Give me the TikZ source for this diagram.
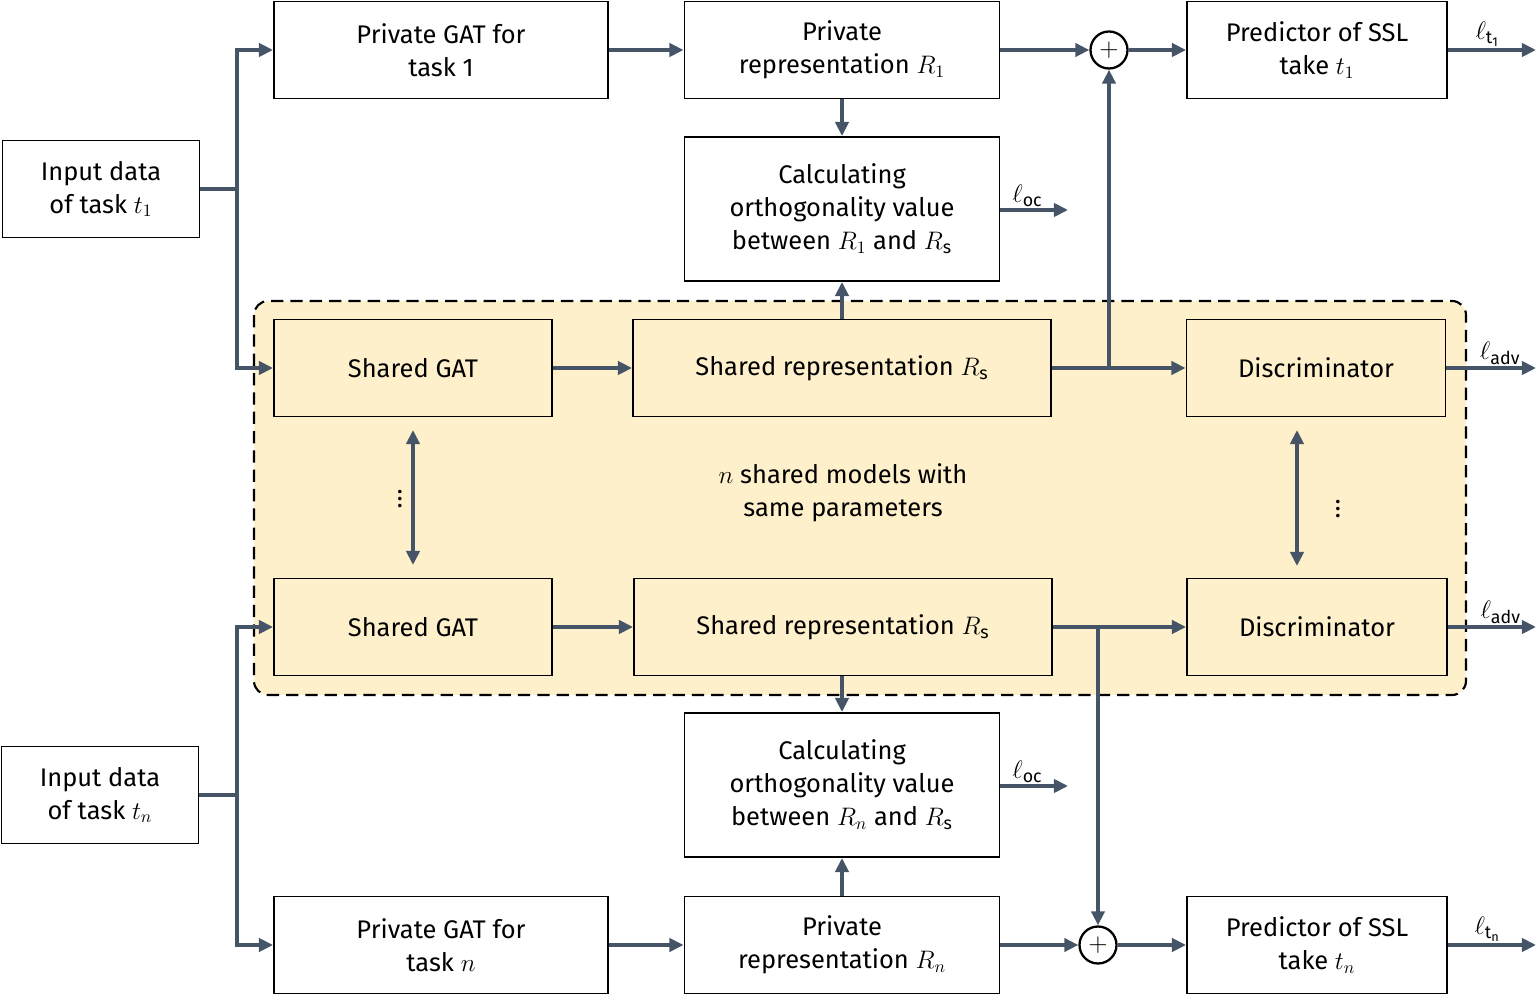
\documentclass[tikz,border=0pt]{standalone}
\usepackage{fontspec}
\setmainfont{Fira Sans}
\usetikzlibrary{arrows.meta}
\definecolor{linkc}{HTML}{465467}
\definecolor{sharedbg}{HTML}{FDF0CA}
\tikzset{
  box/.style 2 args={draw=black, line width=1.1pt, align=center, inner sep=0pt,
    minimum width=#1*0.02cm, minimum height=#2*0.02cm},
  shared/.style={fill=sharedbg},
  link/.style={draw=linkc, line width=2.1pt, -{Triangle[length=8pt,width=7.5pt]}},
  plain/.style={draw=linkc, line width=2.1pt},
  both/.style={draw=linkc, line width=2.1pt, {Triangle[length=8pt,width=7.5pt]}-{Triangle[length=8pt,width=7.5pt]}},
  plus/.style={circle, draw=black, line width=1.3pt, minimum size=0.74cm, inner sep=0pt},
  loss/.style={inner sep=1pt}
}
\begin{document}
\begin{tikzpicture}[x=0.02cm, y=-0.02cm, font=\fontsize{14.5}{18.8}\selectfont]
\useasboundingbox (0,0) rectangle (1536,996);
% shared block background
\draw[dash pattern=on 7pt off 4pt, line width=1.2pt, rounded corners=8pt, fill=sharedbg] (254,301) rectangle (1466,695);
% top task
\node[box={197}{97}] (in1) at (101,189) {Input data\\of task $t_1$};
\node[box={334}{97}] (pgat1) at (441,50) {Private GAT for\\task 1};
\node[box={315}{97}] (prv1) at (842,50) {Private\\representation $R_1$};
\node[box={315}{144}] (orth1) at (842,209) {Calculating\\orthogonality value\\between $R_1$ and $R_{\mathrm{s}}$};
\node[plus] (sum1) at (1109,50) {\Large $+$};
\node[box={260}{97}] (pred1) at (1317,50) {Predictor of SSL\\take $t_1$};
% shared models
\node[box={278}{97}, shared] (sgat1) at (413,368) {Shared GAT};
\node[box={418}{97}, shared] (srep1) at (842,368) {Shared representation $R_{\mathrm{s}}$};
\node[box={259}{97}, shared] (disc1) at (1316,368) {Discriminator};
\node[box={278}{97}, shared] (sgatn) at (413,627) {Shared GAT};
\node[box={418}{97}, shared] (srepn) at (843,627) {Shared representation $R_{\mathrm{s}}$};
\node[box={260}{97}, shared] (discn) at (1317,627) {Discriminator};
\node[align=center] (note) at (843,493) {$n$ shared models with\\same parameters};
\node[inner sep=0pt] (dots1) at (400,494) {$\vdots$};
\node[inner sep=0pt] (dots2) at (1338,504) {$\vdots$};
% bottom task
\node[box={197}{97}] (inn) at (100,795) {Input data\\of task $t_n$};
\node[box={315}{144}] (orthn) at (842,785) {Calculating\\orthogonality value\\between $R_n$ and $R_{\mathrm{s}}$};
\node[box={334}{97}] (pgatn) at (441,945) {Private GAT for\\task $n$};
\node[box={315}{97}] (prvn) at (842,945) {Private\\representation $R_n$};
\node[plus] (sumn) at (1098,945) {\Large $+$};
\node[box={260}{97}] (predn) at (1317,945) {Predictor of SSL\\take $t_n$};
% free ends
\coordinate (o1) at (1536,50);
\coordinate (oc1) at (1068,210);
\coordinate (adv1) at (1536,368);
\coordinate (advn) at (1536,627);
\coordinate (ocn) at (1068,786);
\coordinate (on) at (1536,945);
\coordinate (j1) at (237,189);
\coordinate (jn) at (237,795);
\coordinate (b1) at (1109,368);
\coordinate (bn) at (1098,627);
% connectors, top
\draw[plain] (in1.east) -- (j1);
\draw[link] (j1) |- (pgat1.west);
\draw[link] (j1) |- (sgat1.west);
\draw[link] (pgat1) -- (prv1);
\draw[link] (prv1) -- (sum1);
\draw[link] (sum1) -- (pred1);
\draw[link] (pred1) -- (o1) node[loss, pos=0.45, above] {$\ell_{\mathrm{t_1}}$};
\draw[link] (prv1) -- (orth1);
\draw[link] (orth1.east |- oc1) -- (oc1) node[loss, pos=0.4, above] {$\ell_{\mathrm{oc}}$};
\draw[link] (srep1) -- (orth1);
\draw[link] (sgat1) -- (srep1);
\draw[link] (srep1) -- (disc1);
\draw[link] (b1) -- (sum1);
\draw[link] (disc1) -- (adv1) node[loss, pos=0.6, above] {$\ell_{\mathrm{adv}}$};
\draw[both] (413,430) -- (413,565);
\draw[both] (1297,430) -- (1297,566);
% connectors, bottom
\draw[plain] (inn.east) -- (jn);
\draw[link] (jn) |- (sgatn.west);
\draw[link] (jn) |- (pgatn.west);
\draw[link] (sgatn) -- (srepn);
\draw[link] (srepn) -- (discn);
\draw[link] (bn) -- (sumn);
\draw[link] (discn) -- (advn) node[loss, pos=0.6, above] {$\ell_{\mathrm{adv}}$};
\draw[link] (srepn.south -| orthn.north) -- (orthn);
\draw[link] (orthn.east |- ocn) -- (ocn) node[loss, pos=0.4, above] {$\ell_{\mathrm{oc}}$};
\draw[link] (pgatn) -- (prvn);
\draw[link] (prvn) -- (orthn);
\draw[link] (prvn) -- (sumn);
\draw[link] (sumn) -- (predn);
\draw[link] (predn) -- (on) node[loss, pos=0.45, above] {$\ell_{\mathrm{t_n}}$};
\end{tikzpicture}
\end{document}
